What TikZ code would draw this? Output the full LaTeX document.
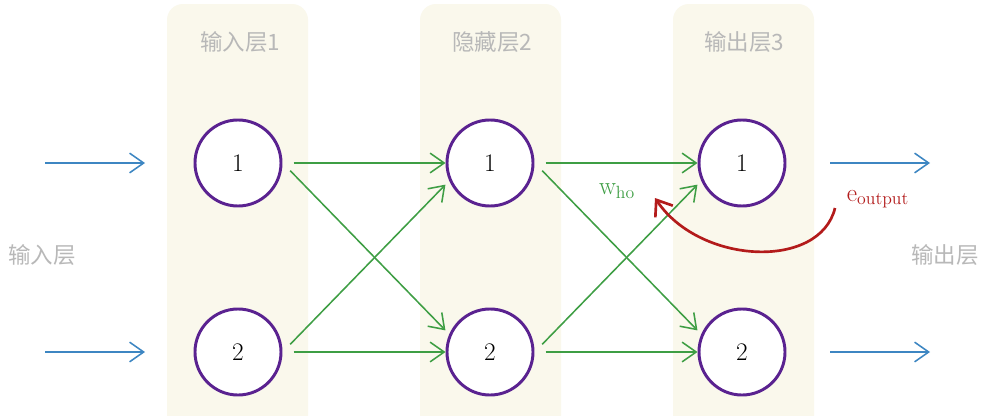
\documentclass[tikz,border=0pt]{standalone}
\usepackage{fontspec}
\newfontfamily\cjk{Noto Sans CJK SC}
\usetikzlibrary{arrows.meta}
\definecolor{beige}{HTML}{FAF8EC}
\definecolor{lbl}{HTML}{B8B8B8}
\definecolor{purp}{HTML}{5A2290}
\definecolor{grn}{HTML}{3E9E44}
\definecolor{blu}{HTML}{3D86C2}
\definecolor{rd}{HTML}{B31B1B}
\begin{document}
\begin{tikzpicture}[x=0.025cm,y=-0.025cm,
  col/.style={fill=beige,draw=none,rounded corners=0.4cm},
  neuron/.style={circle,draw=purp,line width=2.1pt,fill=white,minimum size=2.15cm,inner sep=0pt,font=\fontsize{18}{18}\selectfont},
  lay/.style={text=lbl,font=\cjk\fontsize{16}{16}\selectfont},
  garrow/.style={draw=grn,line width=1.1pt,-{Straight Barb[length=10pt,width=14pt,line width=1.1pt]}},
  barrow/.style={draw=blu,line width=1.1pt,-{Straight Barb[length=10pt,width=14pt,line width=1.1pt]}}]
\useasboundingbox[fill=white] (0,0) rectangle (986,415);
\fill[col] (167,4) rectangle (308,440);
\fill[col] (420,4) rectangle (561,440);
\fill[col] (673,4) rectangle (814,440);
\node[lay] (l1) at (240,42) {输入层1};
\node[lay] (l2) at (492,42) {隐藏层2};
\node[lay] (l3) at (744,42) {输出层3};
\node[lay] (lin) at (42,255) {输入层};
\node[lay] (lout) at (945,255) {输出层};
\node[neuron] (a1) at (238,163) {1};
\node[neuron] (a2) at (238,352) {2};
\node[neuron] (b1) at (490,163) {1};
\node[neuron] (b2) at (490,352) {2};
\node[neuron] (c1) at (742,163) {1};
\node[neuron] (c2) at (742,352) {2};
\coordinate (i1s) at (45,163);
\coordinate (i1e) at (145,163);
\coordinate (i2s) at (45,352);
\coordinate (i2e) at (145,352);
\coordinate (o1s) at (830,163);
\coordinate (o1e) at (930,163);
\coordinate (o2s) at (830,352);
\coordinate (o2e) at (930,352);
\draw[barrow] (i1s) -- (i1e);
\draw[barrow] (i2s) -- (i2e);
\draw[barrow] (o1s) -- (o1e);
\draw[barrow] (o2s) -- (o2e);
\foreach \s/\t in {a/b,b/c}{
  \draw[garrow] ([xshift=8pt]\s1.east) -- (\t1.west);
  \draw[garrow] ([xshift=6pt]\s1.-10) -- ([xshift=-3pt,yshift=2pt]\t2.155);
  \draw[garrow] ([xshift=6pt]\s2.10) -- ([xshift=-3pt,yshift=-2pt]\t1.-155);
  \draw[garrow] ([xshift=8pt]\s2.east) -- (\t2.west);
}
\node[text=grn,font=\fontsize{18}{18}\selectfont] (w) at (617,191) {$\mathrm{w}_{\mathrm{ho}}$};
\node[text=rd,font=\fontsize{18}{18}\selectfont] (e) at (878,199) {$\mathrm{e}_{\mathrm{output}}$};
\coordinate (rs) at (835,208);
\coordinate (re) at (655,198);
\draw[draw=rd,line width=1.9pt,-{Straight Barb[length=10pt,width=15pt,line width=1.9pt]}] (rs) .. controls (820,270) and (700,265) .. (re);
\end{tikzpicture}
\end{document}
